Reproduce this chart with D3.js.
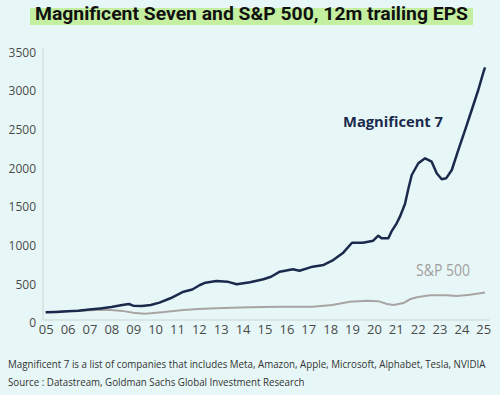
<!DOCTYPE html>
<html>
<head>
  <meta charset="utf-8">
  <title>Magnificent Seven and S&amp;P 500, 12m trailing EPS</title>
  <style>
    body { margin: 0; background: #e7f7f7; }
    svg { display: block; }
  </style>
</head>
<body>
<script src="https://cdn.jsdelivr.net/npm/d3@7"></script>
<script>
var w = 500; // chart width
var h = 395; // chart height

// Magnificent 7, 12m trailing EPS, indexed (decimal year, value)
var mag7Dates = [2005.0, 2005.5, 2006.0, 2006.5, 2007.0, 2007.5, 2008.0, 2008.5, 2008.8, 2009.0,
                 2009.4, 2009.8, 2010.2, 2010.7, 2011.3, 2011.7, 2012.05, 2012.3, 2012.8, 2013.3,
                 2013.73, 2014.34, 2014.95, 2015.3, 2015.7, 2016.3, 2016.6, 2017.2, 2017.7, 2018.14,
                 2018.6, 2019.0, 2019.5, 2019.97, 2020.2, 2020.35, 2020.66, 2020.8, 2021.04, 2021.19,
                 2021.42, 2021.58, 2021.73, 2022.03, 2022.34, 2022.64, 2022.87, 2023.1, 2023.3, 2023.56,
                 2023.86, 2024.17, 2024.47, 2024.77, 2025.0, 2025.08];
var mag7Values = [100, 105, 112, 120, 135, 150, 168, 195, 207, 185,
                  182, 194, 225, 281, 366, 395, 453, 483, 505, 496,
                  462, 488, 527, 560, 625, 656, 638, 690, 712, 776,
                  871, 1000, 1000, 1026, 1091, 1057, 1057, 1143, 1251, 1337,
                  1500, 1704, 1876, 2028, 2092, 2048, 1898, 1821, 1833, 1941,
                  2200, 2459, 2717, 2976, 3200, 3270];

// S&P 500, 12m trailing EPS, indexed
var spxDates = [2005.0, 2006.0, 2007.0, 2007.6, 2008.0, 2008.5, 2009.0, 2009.5, 2009.8, 2010.3,
                2011.3, 2012.0, 2012.8, 2014.3, 2015.7, 2017.2, 2018.1, 2018.9, 2019.67, 2020.2,
                2020.6, 2020.9, 2021.35, 2021.65, 2021.96, 2022.57, 2023.33, 2023.78, 2024.39, 2025.0,
                2025.08];
var spxValues = [100, 112, 125, 132, 128, 118, 95, 82, 87, 100,
                 129, 142, 151, 164, 172, 172, 194, 237, 250, 244,
                 207, 194, 220, 268, 294, 320, 320, 311, 328, 353,
                 355];

var yTicks = [0, 500, 1000, 1500, 2000, 2500, 3000, 3500];
var xTicks = d3.range(2005, 2026); // labelled 05 .. 25

var mag7 = mag7Dates.map(function(d, i) { return {t: d, v: mag7Values[i]}; });
var spx = spxDates.map(function(d, i) { return {t: d, v: spxValues[i]}; });

var svg = d3.select("body").append("svg")
  .attr("width", w)
  .attr("height", h);

svg.append("rect")
  .attr("width", w).attr("height", h)
  .attr("fill", "#e7f7f7");

// squeeze a text horizontally so it spans exactly `width` px
function fitText(x0, y0, width, size, txt) {
  var g = svg.append("g");
  var t = g.append("text")
    .attr("font-family", "'Open Sans', sans-serif")
    .attr("font-size", size)
    .attr("fill", "#333")
    .text(txt);
  var sx = width / t.node().getComputedTextLength();
  g.attr("transform", "translate(" + x0 + "," + y0 + ") scale(" + sx + ",1)");
  return t;
}

// title with green highlight
svg.append("rect")
  .attr("x", 30).attr("y", 8)
  .attr("width", 443).attr("height", 17)
  .attr("fill", "#c4efa0");
svg.append("text")
  .attr("x", 35).attr("y", 19.5)
  .attr("textLength", 433)
  .attr("lengthAdjust", "spacingAndGlyphs")
  .attr("font-family", "Roboto, sans-serif")
  .attr("font-weight", "bold")
  .attr("font-size", 18)
  .attr("fill", "#111")
  .text("Magnificent Seven and S&P 500, 12m trailing EPS");

var x = d3.scaleLinear().domain([2005, 2025]).range([45.7, 483.3]);
var y = d3.scaleLinear().domain([0, 3500]).range([320, 49.5]);

// axis lines
svg.append("line")
  .attr("x1", 43).attr("x2", 43)
  .attr("y1", 48).attr("y2", y(0))
  .attr("stroke", "#cdd6d6").attr("stroke-width", 1);
svg.append("line")
  .attr("x1", 43).attr("x2", 490)
  .attr("y1", y(0)).attr("y2", y(0))
  .attr("stroke", "#cdd6d6").attr("stroke-width", 1);

// y axis labels
var yAxis = d3.axisLeft(y).tickValues(yTicks).tickSize(0).tickPadding(0)
  .tickFormat(d3.format("d"));
var gy = svg.append("g").attr("transform", "translate(36,3)").call(yAxis);
gy.select(".domain").remove();
gy.selectAll("text")
  .attr("font-family", "'Open Sans', sans-serif")
  .attr("font-size", 12)
  .attr("fill", "#4a4a4a");

// x axis labels
var xAxis = d3.axisBottom(x).tickValues(xTicks).tickSize(0).tickPadding(0)
  .tickFormat(function(d) { return d3.format("02d")(d % 100); });
var gx = svg.append("g").attr("transform", "translate(0,325)").call(xAxis);
gx.select(".domain").remove();
gx.selectAll("text")
  .attr("font-family", "'Open Sans', sans-serif")
  .attr("font-size", 13)
  .attr("fill", "#4a4a4a");

var line = d3.line()
  .x(function(d) { return x(d.t); })
  .y(function(d) { return y(d.v); });

svg.append("path")
  .datum(spx)
  .attr("d", line)
  .attr("fill", "none")
  .attr("stroke", "#a9a4a4")
  .attr("stroke-width", 2);

svg.append("path")
  .datum(mag7)
  .attr("d", line)
  .attr("fill", "none")
  .attr("stroke", "#1b2a4c")
  .attr("stroke-width", 2.5)
  .attr("stroke-linejoin", "round");

// series labels
svg.append("text")
  .attr("x", 343).attr("y", 127)
  .attr("textLength", 100)
  .attr("lengthAdjust", "spacingAndGlyphs")
  .attr("font-family", "'Open Sans', sans-serif")
  .attr("font-weight", "bold")
  .attr("font-size", 15)
  .attr("fill", "#1b2a4c")
  .text("Magnificent 7");
svg.append("text")
  .attr("x", 416).attr("y", 276)
  .attr("textLength", 54)
  .attr("lengthAdjust", "spacingAndGlyphs")
  .attr("font-family", "'Open Sans', sans-serif")
  .attr("font-size", 16)
  .attr("fill", "#a39e9e")
  .text("S&P 500");

// footnotes
fitText(8, 368, 478, 10.5, "Magnificent 7 is a list of companies that includes Meta, Amazon, Apple, Microsoft, Alphabet, Tesla, NVIDIA");
fitText(8, 386, 297, 10.5, "Source : Datastream, Goldman Sachs Global Investment Research");
</script>
</body>
</html>
